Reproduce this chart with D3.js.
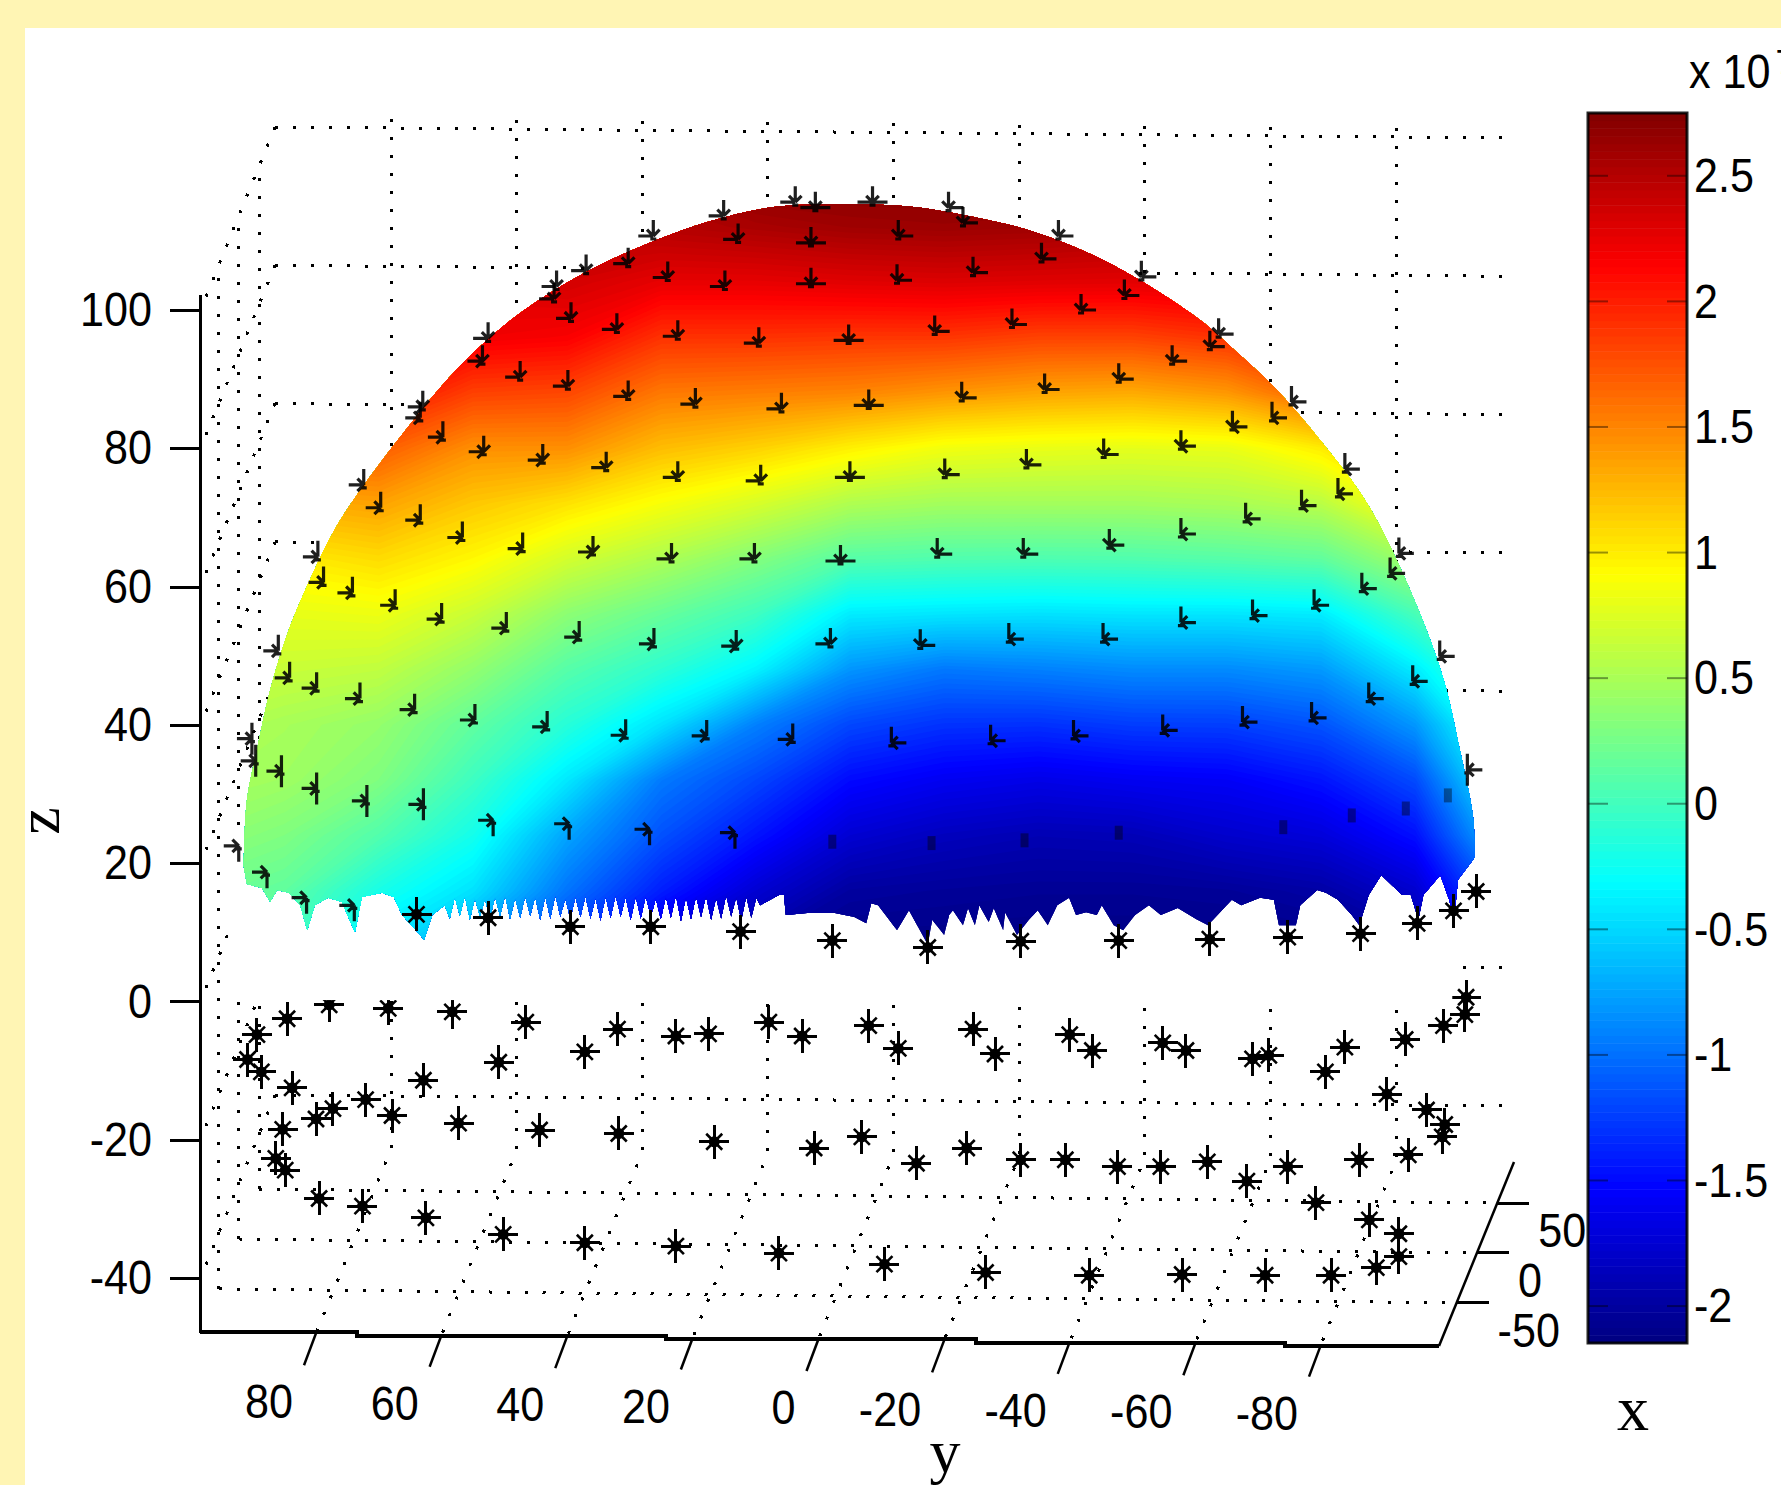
<!DOCTYPE html>
<html>
<head>
<meta charset="utf-8">
<script src="https://cdn.jsdelivr.net/npm/d3@7"></script>
<style>
  html, body { margin: 0; padding: 0; background: #fff; overflow: hidden; }
  svg { display: block; }
</style>
</head>
<body>
<svg id="chart"></svg>
<script>
var width = 1781;
var height = 1485;

// tick values
const zTicks = [100, 80, 60, 40, 20, 0, -20, -40];
const yTicks = [80, 60, 40, 20, 0, -20, -40, -60, -80];
const xTicks = [50, 0, -50];
const cbTicks = [2.5, 2, 1.5, 1, 0.5, 0, -0.5, -1, -1.5, -2];

// surface colour: x (in 1e7) at y/z grid nodes
const surfaceY = [100, 85, 70, 55, 40, 25, 10, -5, -20, -35, -50, -65, -80, -95, -110];
const surfaceZ = [120, 112, 104, 96, 88, 80, 72, 64, 56, 48, 40, 32, 24, 16, 8];
const surfaceX = [
  [2.3, 2.3, 2.3, 2.4, 2.45, 2.6, 2.75, 2.75, 2.75, 2.75, 2.65, 2.5, 2.4, 2.4, 2.4],
  [2.3, 2.3, 2.3, 2.4, 2.45, 2.5, 2.55, 2.6, 2.62, 2.6, 2.55, 2.5, 2.4, 2.4, 2.4],
  [2.3, 2.3, 2.3, 2.3, 2.35, 2.25, 2.25, 2.28, 2.3, 2.28, 2.27, 2.3, 2.4, 2.4, 2.4],
  [2.3, 2.3, 2.3, 2.2, 2.16, 1.9, 1.9, 1.88, 1.88, 1.82, 1.82, 1.9, 2.17, 2.2, 2.4],
  [2.1, 2.1, 2.1, 1.83, 1.8, 1.56, 1.53, 1.5, 1.42, 1.35, 1.32, 1.41, 1.69, 1.9, 2.2],
  [1.7, 1.7, 1.7, 1.45, 1.45, 1.23, 1.13, 0.98, 0.85, 0.81, 0.79, 0.81, 1.0, 1.5, 1.9],
  [1.3, 1.3, 1.36, 1.18, 1.05, 0.88, 0.72, 0.53, 0.47, 0.47, 0.47, 0.5, 0.58, 0.98, 1.5],
  [1.0, 1.0, 1.08, 0.94, 0.7, 0.52, 0.32, 0.1, 0.07, 0.06, 0.07, 0.1, 0.15, 0.48, 1.1],
  [0.85, 0.8, 0.83, 0.65, 0.36, 0.18, -0.01, -0.4, -0.43, -0.45, -0.43, -0.43, -0.4, 0.03, 0.65],
  [0.72, 0.65, 0.61, 0.39, 0.1, -0.1, -0.36, -0.82, -0.96, -0.92, -0.87, -0.87, -0.8, -0.4, 0.2],
  [0.58, 0.49, 0.4, 0.15, -0.13, -0.45, -0.92, -1.2, -1.3, -1.31, -1.25, -1.24, -1.14, -0.81, 0],
  [0.5, 0.45, 0.3, -0.02, -0.42, -0.95, -1.2, -1.5, -1.6, -1.65, -1.6, -1.57, -1.45, -1.18, -0.2],
  [0.4, 0.3, 0.08, -0.22, -0.75, -1.15, -1.45, -1.75, -1.85, -1.9, -1.88, -1.78, -1.71, -1.47, -0.53],
  [0.25, 0.15, -0.2, -0.45, -0.98, -1.4, -1.75, -2.0, -2.03, -2.05, -2.05, -2.03, -1.97, -1.77, -0.95],
  [0.1, 0, -0.45, -0.8, -1.3, -1.75, -2.0, -2.12, -2.12, -2.13, -2.13, -2.13, -2.1, -2.0, -1.2]
];

// outline of the coloured dome, as [y, z] in axis units
const domeTop = [
  [91.5, 19.5], [91.0, 29.1], [89.4, 36.4], [87.3, 45.0], [84.5, 53.3], [81.8, 59.3], [77.3, 67.8],
  [73.6, 73.1], [69.6, 78.1], [64.9, 83.6], [60.3, 88.7], [54.5, 94.2], [47.0, 99.9], [38.0, 105.0],
  [28.0, 109.3], [17.0, 112.9], [7.1, 114.9], [-4.0, 115.3], [-15.2, 114.9], [-26.0, 113.2], [-34.0, 111.4], [-42.6, 108.4], [-50.6, 104.6],
  [-60.7, 98.6], [-66.6, 93.9], [-72.5, 88.9], [-80.2, 80.8], [-87.3, 72.1], [-93.7, 60.5], [-99.4, 46.9],
  [-102.1, 36.4], [-104.2, 26.7], [-104.5, 20.9]
];
const domeBottom = [
  [91.0, 17.0], [88.6, 16.4], [87.3, 14.4], [86.2, 16.1], [84.3, 15.7], [82.5, 13.9], [81.4, 10.3], [80.2, 13.9],
  [78.1, 15.0], [75.9, 14.4], [73.8, 10.0], [72.7, 15.1], [69.5, 15.7], [67.6, 15.1], [66.3, 12.5], [63.4, 9.6],
  [62.8, 8.9], [61.5, 12.5], [59.5, 13.9],
  [58.7, 12.0], [57.9, 15.1], [57.1, 12.4], [56.3, 15.3], [55.5, 11.8], [54.7, 15.0], [53.9, 12.2], [53.1, 14.8],
  [52.3, 12.0], [51.5, 15.2], [50.7, 12.3], [49.9, 15.4], [49.1, 11.9], [48.3, 15.0], [47.5, 12.1], [46.7, 15.3],
  [45.9, 12.4], [45.1, 15.1], [44.3, 11.8], [43.5, 15.2], [42.7, 12.0], [41.9, 15.4], [41.1, 12.3], [40.3, 14.9],
  [39.5, 11.9], [38.7, 15.2], [37.9, 12.2], [37.1, 15.3], [36.3, 12.0], [35.5, 15.0], [34.7, 11.7], [33.9, 15.2],
  [33.1, 12.1], [32.3, 15.4], [31.5, 12.3], [30.7, 15.1], [29.9, 11.8], [29.1, 15.2], [28.3, 12.0], [27.5, 15.3],
  [26.7, 12.2], [25.9, 14.9], [25.1, 11.9], [24.3, 15.2], [23.5, 12.1], [22.7, 15.4], [21.9, 11.6], [21.1, 15.1],
  [20.3, 11.9], [19.5, 15.2], [18.7, 12.2], [17.9, 15.3], [17.1, 11.8], [16.3, 15.0], [15.5, 12.0], [14.7, 15.4],
  [13.9, 12.3], [13.1, 15.1], [12.3, 11.7], [11.5, 15.2], [10.7, 12.1], [9.9, 15.0],
  [9.3, 13.9], [6.3, 15.4], [5.5, 15.4], [5.2, 12.5], [1.8, 12.8], [-2.6, 12.8], [-5.7, 12.2], [-7.6, 11.3],
  [-8.4, 14.2], [-9.5, 13.9], [-12.5, 10.3], [-14.4, 13.2], [-17.4, 8.2], [-18.1, 11.8], [-20.0, 9.6], [-20.8, 12.5],
  [-21.4, 13.2], [-23.0, 11.0], [-23.8, 13.5], [-24.9, 11.0], [-25.6, 13.9], [-27.1, 11.5], [-27.9, 13.5], [-29.4, 10.3],
  [-29.7, 12.9], [-31.6, 9.6], [-33.5, 11.8], [-34.9, 13.2], [-36.5, 11.0], [-38.0, 13.9], [-39.9, 15.0], [-41.0, 12.5],
  [-42.6, 12.9], [-44.3, 12.5], [-45.1, 13.9], [-47.0, 11.0], [-48.5, 10.3], [-50.4, 12.5], [-52.6, 13.9], [-54.5, 12.5],
  [-57.2, 13.5], [-60.3, 11.8], [-62.0, 11.0], [-65.8, 14.7], [-67.3, 13.9], [-70.3, 15.0], [-72.5, 14.7], [-73.3, 11.0],
  [-76.0, 11.0], [-76.7, 13.9], [-79.4, 16.1], [-80.8, 15.7], [-82.7, 14.7], [-84.9, 12.5], [-86.1, 11.0], [-87.6, 15.4],
  [-89.6, 18.3], [-92.9, 15.4], [-94.3, 15.4], [-95.5, 11.8], [-96.3, 15.4], [-99.0, 18.3], [-100.4, 14.7], [-101.2, 11.8],
  [-101.8, 17.6], [-104.2, 20.5]
];

// stars sitting on the dome, half hidden by it
const domeStars = [
  [15.1, 113.6], [3.7, 115.6], [0.5, 114.8], [-8.6, 115.6], [-20.7, 114.8], [-23.0, 112.6], [-38.2, 110.7], [26.3, 110.7],
  [30.3, 106.7], [37.0, 105.7], [41.7, 103.4], [42.1, 101.6], [52.6, 95.9], [53.5, 92.6], [63.0, 86.0], [63.4, 84.4],
  [72.4, 74.7], [79.7, 64.3], [86.0, 50.7], [90.2, 38.0], [92.3, 22.5], [87.8, 18.7], [81.5, 15.0], [73.9, 13.9],
  [-51.4, 104.8], [-63.7, 96.5], [-75.3, 86.7], [-83.8, 77.0], [-92.4, 64.8], [-98.9, 49.9], [-103.3, 33.5],
  [12.8, 110.2], [1.2, 109.7], [-12.7, 110.7], [-35.5, 107.4],
  [24.0, 104.7], [14.9, 103.4], [1.2, 103.8], [-12.5, 104.3], [-24.6, 105.4], [-48.7, 102.1],
  [39.4, 98.8], [32.1, 97.2], [22.4, 96.2], [9.5, 95.2], [-4.8, 95.6], [-18.5, 96.9], [-30.8, 97.9], [-41.8, 100.0],
  [47.5, 90.3], [39.9, 89.0], [30.3, 87.5], [19.6, 86.4], [5.9, 85.7], [-8.0, 86.2], [-22.8, 87.3], [-36.0, 88.5],
  [-47.8, 90.0], [-56.3, 92.6], [-62.3, 94.7],
  [59.8, 81.6], [53.3, 79.5], [43.9, 78.3], [33.8, 77.2], [22.4, 75.8], [9.2, 75.3], [-5.0, 75.8], [-20.1, 76.2],
  [-33.1, 77.6], [-45.4, 79.1], [-57.7, 80.3], [-65.9, 83.1], [-72.2, 84.4],
  [69.7, 71.4], [63.4, 69.6], [56.7, 67.1], [47.1, 65.5], [35.9, 65.0], [23.4, 64.0], [10.2, 64.0], [-3.5, 63.7],
  [-18.9, 64.7], [-32.6, 64.7], [-46.3, 66.0], [-57.7, 67.6], [-68.0, 69.8], [-76.9, 71.7], [-82.7, 73.4],
  [78.8, 60.6], [74.2, 59.1], [67.4, 57.3], [60.0, 55.3], [49.7, 54.0], [38.1, 52.7], [26.2, 51.7], [13.1, 51.4],
  [-1.9, 51.7], [-16.2, 51.5], [-30.3, 52.4], [-45.3, 52.4], [-57.7, 54.8], [-69.1, 55.8], [-78.9, 57.3], [-86.5, 59.7],
  [-91.0, 61.9],
  [84.2, 46.8], [79.9, 45.3], [73.0, 43.8], [64.3, 42.2], [54.7, 40.7], [43.2, 39.7], [30.7, 38.5], [17.8, 38.4],
  [4.1, 37.9], [-11.6, 37.4], [-27.4, 37.7], [-40.6, 38.4], [-54.8, 39.2], [-67.5, 40.4], [-78.5, 41.0], [-87.6, 43.8],
  [-94.6, 46.3],
  [89.6, 34.8], [85.5, 33.3], [79.9, 30.8], [71.9, 29.0], [62.9, 28.5], [51.8, 26.2], [39.7, 25.7], [26.9, 24.9],
  [13.3, 24.4], [-2.2, 23.1], [-18.0, 22.9], [-32.8, 23.3], [-47.8, 24.4], [-74.0, 25.2], [-84.9, 26.9], [-93.5, 27.9],
  [-100.2, 29.8]
];

// stars along the ragged lower edge, whole
const edgeStars = [
  [64.0, 12.6], [52.6, 12.1], [39.5, 10.8], [26.7, 10.8], [12.4, 10.1], [-2.2, 8.8], [-17.4, 7.8], [-32.2, 8.7],
  [-47.8, 8.8], [-62.3, 9.0], [-74.7, 9.3], [-86.3, 9.8], [-95.3, 11.3], [-101.1, 13.1], [-104.7, 15.9]
];

// stars under the dome
const lowStars = [
  [84.6, -2.5], [77.9, -0.5], [68.5, -1.0], [58.3, -1.5], [46.6, -3.0], [37.2, -7.3], [32.0, -4.0], [22.7, -5.0],
  [17.5, -4.7], [7.9, -3.0], [2.6, -5.0], [-8.0, -3.5], [-12.7, -6.8], [-24.6, -4.0], [-28.1, -7.6], [-40.0, -4.8],
  [-43.6, -7.1], [-54.8, -6.0], [-58.5, -7.1], [-69.1, -8.3], [-71.7, -7.8], [-80.7, -10.2], [-83.8, -6.6], [-93.4, -5.5],
  [-99.5, -3.5], [-102.9, -1.9], [-103.1, 0.6], [89.4, -4.8], [90.9, -8.4], [88.7, -10.2], [83.8, -12.5], [62.9, -11.4],
  [50.9, -8.8],
  [85.3, -18.5], [80.0, -17.0], [77.3, -15.5], [72.1, -14.2], [67.9, -16.5], [57.3, -17.6], [44.4, -18.6], [31.8, -19.1],
  [16.6, -20.3], [0.7, -21.2], [-6.9, -19.6], [-15.6, -23.4], [-23.6, -21.2], [-32.2, -22.9], [-39.3, -22.9], [-47.6, -23.9],
  [-54.5, -23.9], [-61.9, -23.2], [-68.2, -26.0], [-74.7, -23.9], [-86.1, -22.9], [-93.9, -22.2], [-99.3, -19.6],
  [-99.7, -17.8], [-96.8, -15.7], [-90.5, -13.4], [-79.2, -29.1], [86.4, -22.7], [84.9, -24.4],
  [79.5, -28.5], [72.6, -29.6], [62.5, -31.3], [50.2, -33.7], [37.2, -34.9], [22.7, -35.4], [6.3, -36.4], [-10.5, -38.0],
  [-26.6, -39.2], [-43.1, -39.6], [-57.9, -39.5], [-71.1, -39.6], [-81.6, -39.6], [-88.8, -38.5], [-92.4, -36.9],
  [-92.4, -33.6], [-87.7, -31.6]
];

const sansFont = "'Liberation Sans', Arial, sans-serif";
const serifFont = "'Liberation Serif', 'Times New Roman', serif";
const squeeze = 0.88; // the tick digits are narrower than the font

// scales
const yScale = d3.scaleLinear().domain([80, -80]).range([316, 1321]);
const zScale = d3.scaleLinear().domain([100, -40]).range([310, 1278]);
const depthScale = d3.scaleLinear().domain([-50, 50]).range([0.234, 0.777]);
const cbDomain = [-2.147, 2.75];
const cbScale = d3.scaleLinear().domain([2.75, -2.147]).range([113, 1343]);

// jet colormap
const jetStops = [0, 0.125, 0.375, 0.625, 0.875, 1].map((t) => cbDomain[0] + t * (cbDomain[1] - cbDomain[0]));
const jet = d3.scaleLinear().domain(jetStops)
  .range(["#000080", "#0000ff", "#00ffff", "#ffff00", "#ff0000", "#800000"]);

// projection of the 3d box, front edge tilts down to the right
const depthVec = [75, -184];
const frontY = (x) => 1332 + ((x - 201) * 14) / 1238;
const leftFront = (f) => [201 + depthVec[0] * f, 1332 + depthVec[1] * f];
const rightFront = (f) => [1439 + depthVec[0] * f, 1346 + depthVec[1] * f];

const svg = d3.select("#chart").attr("width", width).attr("height", height);

svg.append("rect").attr("width", width).attr("height", height).attr("fill", "#fff5b4");
svg.append("rect").attr("x", 25).attr("y", 28).attr("width", width).attr("height", height).attr("fill", "#fff");

// dotted grid
const gridLine = d3.line();
function dotted(points) {
  svg.append("path")
    .attr("d", gridLine(points))
    .attr("fill", "none")
    .attr("stroke", "#000")
    .attr("stroke-width", 3)
    .attr("stroke-dasharray", "3 15")
    .attr("shape-rendering", "crispEdges");
}
zTicks.forEach((z) => {
  const level = zScale(z) - 183;
  // z=0 back line does not show anywhere in the picture
  if (z !== 0) dotted([[275, level], [1505, level + 11]]);
  dotted([[275, level], [205, level + 172]]);
});
yTicks.forEach((v) => {
  const x = yScale(v);
  const y0 = frontY(x);
  const bx = x + depthVec[0];
  dotted([[bx, 118 + ((bx - 275) * 11) / 1238], [bx, y0 + depthVec[1]], [x, y0]]);
});
xTicks.forEach((v) => {
  const f = depthScale(v);
  const l = leftFront(f);
  dotted([l, rightFront(f)]);
  dotted([l, [l[0], 127 + (1 - f) * 184]]);
});

// star marker: long upright cross, short diagonals, fat centre
function drawFullStars(list) {
  const g = svg.append("g");
  g.selectAll("path")
    .data(list)
    .enter()
    .append("path")
    .attr("transform", (d) => `translate(${yScale(d[0])},${zScale(d[1])})`)
    .attr("d", "M0,-17V17M-15,0H15")
    .attr("fill", "none")
    .attr("stroke", "#000")
    .attr("stroke-width", 3)
    .attr("shape-rendering", "crispEdges");
  g.selectAll(".diag")
    .data(list)
    .enter()
    .append("path")
    .attr("class", "diag")
    .attr("transform", (d) => `translate(${yScale(d[0])},${zScale(d[1])})`)
    .attr("d", "M-8,-8L8,8M-8,8L8,-8")
    .attr("fill", "none")
    .attr("stroke", "#000")
    .attr("stroke-width", 2.6);
  g.selectAll("circle")
    .data(list)
    .enter()
    .append("circle")
    .attr("cx", (d) => yScale(d[0]))
    .attr("cy", (d) => zScale(d[1]))
    .attr("r", 5.5)
    .attr("fill", "#000");
}
drawFullStars(lowStars);

// white part of the sphere hides the grid and the tops of the first stars
svg.append("rect")
  .attr("x", yScale(94))
  .attr("y", zScale(25.5))
  .attr("width", yScale(-100.9) - yScale(94))
  .attr("height", zScale(0.2) - zScale(25.5))
  .attr("fill", "#fff");

// surface, fine colour levels so it reads as smooth shading
const nCols = surfaceY.length;
const nRows = surfaceZ.length;
const colPos = d3.scaleLinear().domain([0.5, nCols - 0.5]).range([yScale(surfaceY[0]), yScale(surfaceY[nCols - 1])]);
const rowPos = d3.scaleLinear().domain([0.5, nRows - 0.5]).range([zScale(surfaceZ[0]), zScale(surfaceZ[nRows - 1])]);
const nLevels = 160;
const levelStep = (cbDomain[1] - cbDomain[0]) / nLevels;
const levels = d3.range(nLevels).map((i) => cbDomain[0] + i * levelStep);
const contours = d3.contours().size([nCols, nRows]).thresholds(levels)(surfaceX.flat());
const gridPath = d3.geoPath(d3.geoTransform({
  point(x, y) {
    this.stream.point(colPos(x), rowPos(y));
  },
}));

const domeX = (d) => yScale(d[0]);
const domeY = (d) => zScale(d[1]);
const topPath = d3.line().curve(d3.curveCatmullRom).x(domeX).y(domeY)(domeTop);
const bottomPath = d3.line().x(domeX).y(domeY)(domeBottom.slice().reverse()).replace("M", "L");
svg.append("clipPath").attr("id", "dome")
  .append("path")
  .attr("d", topPath + bottomPath + "Z");

svg.append("g")
  .attr("clip-path", "url(#dome)")
  .selectAll("path")
  .data(contours)
  .enter()
  .append("path")
  .attr("d", gridPath)
  .attr("fill", (d, i) => jet(levels[i] + levelStep / 2));

// dome stars: only the spokes pointing away from the sphere centre stay visible
const spokes = [[1, 0, 15], [0.7, -0.7, 9], [0, -1, 16], [-0.7, -0.7, 9], [-1, 0, 15], [-0.7, 0.7, 9], [0, 1, 16], [0.7, 0.7, 9]];
const centreX = yScale(-4.6);
const centreY = zScale(33);
const sunken = (d) => d[0] < 5 && d[1] < 30; // low right ones are lost in the dark blue
svg.append("g")
  .selectAll("path")
  .data(domeStars)
  .enter()
  .append("path")
  .attr("transform", (d) => `translate(${yScale(d[0])},${zScale(d[1])})`)
  .attr("d", (d) => {
    if (sunken(d)) return "M0,-7V7";
    const dx = yScale(d[0]) - centreX;
    const dy = zScale(d[1]) - centreY;
    const len = Math.hypot(dx, dy) || 1;
    let out = "M-3,3H3";
    spokes.forEach((s) => {
      if ((s[0] * dx + s[1] * dy) / len > -0.08) out += `M0,0L${s[0] * s[2]},${s[1] * s[2]}`;
    });
    return out;
  })
  .attr("fill", "none")
  .attr("stroke", "#000")
  .attr("stroke-opacity", (d) => (sunken(d) ? 0.4 : 0.88))
  .attr("stroke-width", (d) => (sunken(d) ? 8 : 3.2));

drawFullStars(edgeStars);

// z axis
const zAxis = d3.axisLeft(zScale).tickValues(zTicks).tickSize(30).tickPadding(18).tickFormat((d) => String(d));
const zG = svg.append("g").attr("transform", "translate(200,0)").call(zAxis);
zG.select(".domain").remove();
zG.selectAll("line").attr("stroke", "#000").attr("stroke-width", 3).attr("shape-rendering", "crispEdges");
zG.selectAll("text")
  .attr("x", -48 / squeeze)
  .attr("transform", `scale(${squeeze},1)`)
  .attr("fill", "#000")
  .attr("font-family", sansFont)
  .attr("font-size", 49);
svg.append("line")
  .attr("x1", 200).attr("x2", 200).attr("y1", 295).attr("y2", 1333)
  .attr("stroke", "#000").attr("stroke-width", 3).attr("shape-rendering", "crispEdges");

// front edge of the box, stair stepped like the low res original
const baseX = [200, 357, 666, 976, 1285, 1439];
const baseY = [1332, 1336, 1339, 1343, 1346, 1346];
svg.append("path")
  .attr("d", d3.line().curve(d3.curveStepAfter).x((d) => d).y((d, i) => baseY[i])(baseX))
  .attr("fill", "none")
  .attr("stroke", "#000")
  .attr("stroke-width", 3.5)
  .attr("shape-rendering", "crispEdges");

// y axis, ticks slanted along the depth direction
const yAxis = d3.axisBottom(yScale).tickValues(yTicks).tickSizeOuter(0).tickFormat((d) => String(d));
const yG = svg.append("g").call(yAxis);
yG.select(".domain").remove();
yG.selectAll(".tick").attr("transform", (d) => `translate(${yScale(d)},${frontY(yScale(d))})`);
yG.selectAll("line")
  .attr("x2", -12).attr("y2", 32)
  .attr("stroke", "#000").attr("stroke-width", 2.5);
yG.selectAll("text")
  .attr("x", -23 / squeeze)
  .attr("y", 68)
  .attr("dy", "0.35em")
  .attr("text-anchor", "end")
  .attr("transform", `scale(${squeeze},1)`)
  .attr("fill", "#000")
  .attr("font-family", sansFont)
  .attr("font-size", 49);

// depth axis
const rightBack = rightFront(1);
svg.append("line")
  .attr("x1", 1439).attr("y1", 1346).attr("x2", rightBack[0]).attr("y2", rightBack[1])
  .attr("stroke", "#000").attr("stroke-width", 2.5);
const depthG = svg.append("g")
  .selectAll("g")
  .data(xTicks)
  .enter()
  .append("g")
  .attr("transform", (d) => `translate(${rightFront(depthScale(d))})`);
depthG.append("line")
  .attr("x2", 32)
  .attr("stroke", "#000").attr("stroke-width", 3).attr("shape-rendering", "crispEdges");
depthG.append("text")
  .attr("transform", `translate(41,27) scale(${squeeze},1)`)
  .attr("dy", "0.35em")
  .attr("fill", "#000")
  .attr("font-family", sansFont)
  .attr("font-size", 49)
  .text((d) => String(d));

// colorbar
const cbLeft = 1588;
const cbRight = 1687;
svg.append("g")
  .selectAll("rect")
  .data(levels)
  .enter()
  .append("rect")
  .attr("x", cbLeft)
  .attr("width", cbRight - cbLeft)
  .attr("y", (d) => cbScale(d + levelStep))
  .attr("height", (d) => cbScale(d) - cbScale(d + levelStep) + 0.5)
  .attr("fill", (d) => jet(d + levelStep / 2));
svg.append("rect")
  .attr("x", cbLeft).attr("y", 113)
  .attr("width", cbRight - cbLeft).attr("height", 1343 - 113)
  .attr("fill", "none")
  .attr("stroke", "#000").attr("stroke-opacity", 0.85).attr("stroke-width", 3);
const cbAxis = d3.axisRight(cbScale).tickValues(cbTicks).tickSize(0).tickPadding(7).tickFormat((d) => String(d));
const cbG = svg.append("g").attr("transform", `translate(${cbRight},0)`).call(cbAxis);
cbG.select(".domain").remove();
cbG.selectAll("text")
  .attr("x", 7 / squeeze)
  .attr("transform", `scale(${squeeze},1)`)
  .attr("fill", "#000")
  .attr("font-family", sansFont)
  .attr("font-size", 49);
[[cbLeft, cbLeft + 20], [cbRight - 20, cbRight]].forEach((ends) => {
  svg.append("g")
    .selectAll("line")
    .data(cbTicks)
    .enter()
    .append("line")
    .attr("x1", ends[0]).attr("x2", ends[1])
    .attr("y1", (d) => cbScale(d)).attr("y2", (d) => cbScale(d))
    .attr("stroke", "#000").attr("stroke-opacity", 0.4).attr("stroke-width", 2);
});

// multiplier, runs off the right edge as in the source image
const mult = svg.append("text")
  .attr("transform", `translate(1689,88) scale(${squeeze},1)`)
  .attr("fill", "#000")
  .attr("font-family", sansFont)
  .attr("font-size", 49);
mult.append("tspan").text("x 10");
mult.append("tspan").attr("font-size", 36).attr("dy", -14).attr("dx", 6).text("7");

// axis names
svg.append("text")
  .attr("transform", "translate(59,821) rotate(-90)")
  .attr("text-anchor", "middle")
  .attr("font-family", serifFont)
  .attr("font-size", 62)
  .text("z");
svg.append("text")
  .attr("x", 945).attr("y", 1472)
  .attr("text-anchor", "middle")
  .attr("font-family", serifFont)
  .attr("font-size", 62)
  .text("y");
svg.append("text")
  .attr("x", 1633).attr("y", 1430)
  .attr("text-anchor", "middle")
  .attr("font-family", serifFont)
  .attr("font-size", 64)
  .text("x");
</script>
</body>
</html>
